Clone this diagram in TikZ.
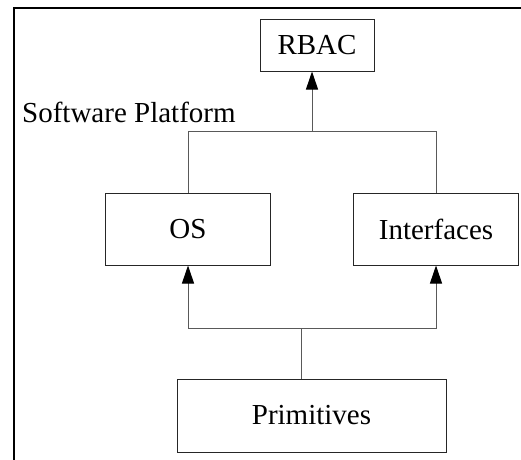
\documentclass[tikz,border=0pt]{standalone}
\usepackage{fontspec}
\setmainfont{Liberation Serif}
\usetikzlibrary{arrows.meta}
\begin{document}
\begin{tikzpicture}[x=1pt,y=-1pt,
  box/.style={draw=black!85, line width=1pt, inner sep=0pt, font=\fontsize{29}{34}\selectfont},
  conn/.style={draw=black!65, line width=1pt},
  arr/.style={conn, -{Triangle[length=18pt,width=12pt,black]}}]
  \useasboundingbox (0,0) rectangle (521,459);
  \begin{scope}
    \clip (0,0) rectangle (521,459);
    % outer frame, running past the page on the right and bottom
    \draw[line width=2.2pt, black] (14,8) rectangle (540,480);
  \end{scope}

  \node[box, minimum width=114pt, minimum height=52pt] (rbac) at (317,45) {RBAC};
  \node[box, minimum width=165pt, minimum height=72pt] (os) at (188,229) {OS};
  \node[box, minimum width=165pt, minimum height=72pt] (intf) at (436,229) {Interfaces};
  \node[box, minimum width=269pt, minimum height=73pt] (prim) at (311.5,415.5) {Primitives};
  \node[anchor=base west, inner sep=0pt, font=\fontsize{29}{34}\selectfont] (sp) at (22,122) {Software Platform};

  % upper tree: OS and Interfaces join and lead up to RBAC
  \coordinate (tj) at (312,131);
  \draw[conn] (os.north) |- (intf.north |- tj) -- (intf.north);
  \draw[arr] (tj) -- (tj |- rbac.south);

  % lower tree: Primitives feeds OS and Interfaces
  \coordinate (bj) at (301.5,328);
  \draw[conn] (prim.north -| bj) -- (bj);
  \draw[arr] (bj) -| (os.south);
  \draw[arr] (bj) -| (intf.south);
\end{tikzpicture}
\end{document}
